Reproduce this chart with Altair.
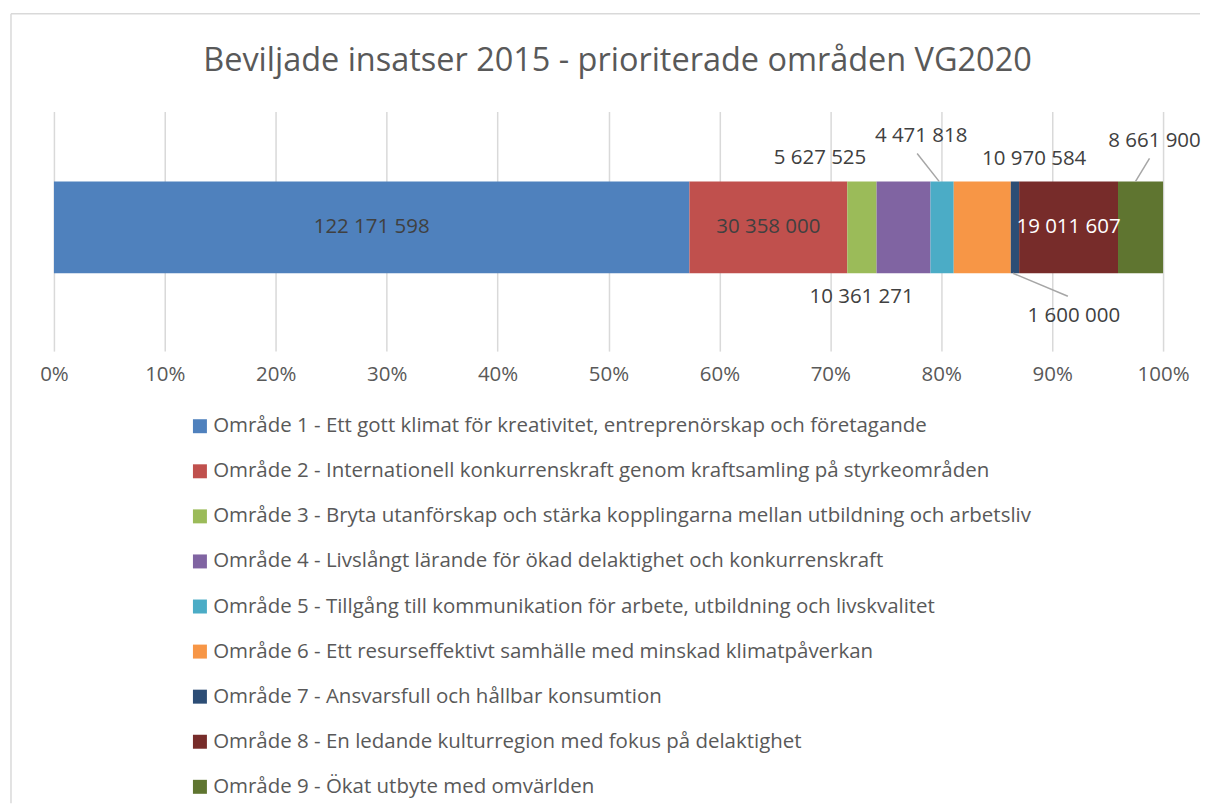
import altair as alt
import pandas as pd

areas = [
    "Område 1 - Ett gott klimat för kreativitet, entreprenörskap och företagande",
    "Område 2 - Internationell konkurrenskraft genom kraftsamling på styrkeområden",
    "Område 3 - Bryta utanförskap och stärka kopplingarna mellan utbildning och arbetsliv",
    "Område 4 - Livslångt lärande för ökad delaktighet och konkurrenskraft",
    "Område 5 - Tillgång till kommunikation för arbete, utbildning och livskvalitet",
    "Område 6 - Ett resurseffektivt samhälle med minskad klimatpåverkan",
    "Område 7 - Ansvarsfull och hållbar konsumtion",
    "Område 8 - En ledande kulturregion med fokus på delaktighet",
    "Område 9 - Ökat utbyte med omvärlden",
]
values = [122171598, 30358000, 5627525, 10361271, 4471818, 10970584, 1600000, 19011607, 8661900]
colors = ["#4F81BD", "#C0504D", "#9BBB59", "#8064A2", "#4BACC6", "#F79646", "#2C4D75", "#772C2A", "#5F7530"]
title_text = "Beviljade insatser 2015 - prioriterade områden VG2020"

total = sum(values)
starts, ends = [], []
acc = 0
for v in values:
    starts.append(acc / total)
    acc += v
    ends.append(acc / total)

df = pd.DataFrame({
    "area": areas,
    "value": values,
    "start": starts,
    "end": ends,
    "mid": [(s + e) / 2 for s, e in zip(starts, ends)],
    "label": [f"{v:,}".replace(",", " ") for v in values],
    "order": list(range(len(values))),
    "row": ["r"] * len(values),
})

FONT = "Open Sans"
FS = 20.5
W, H = 1111, 240

yscale = alt.Scale(paddingInner=0, paddingOuter=0.8043, align=0.473)
yenc = alt.Y("row:N", axis=None, scale=yscale)
color_enc = alt.Color("area:N", scale=alt.Scale(domain=areas, range=colors),
                      legend=alt.Legend(title=None, orient="none", legendX=136, legendY=305,
                                        direction="vertical", columns=1,
                                        symbolType="square", symbolSize=196,
                                        symbolStrokeWidth=0, symbolOpacity=1,
                                        labelFont=FONT, labelFontSize=FS, labelColor="#595959",
                                        labelLimit=0, labelOffset=3, rowPadding=24.15))

base = alt.Chart(df)

bars = base.mark_bar(stroke=None).encode(
    x=alt.X("start:Q", scale=alt.Scale(domain=[0, 1], nice=False),
            axis=alt.Axis(format=".0%", values=[i / 10 for i in range(11)], title=None,
                          grid=True, gridColor="#D9D9D9", gridWidth=1.5,
                          ticks=False, domain=False, labelPadding=13, labelFlush=False,
                          labelFont=FONT, labelFontSize=FS, labelColor="#595959")),
    x2="end:Q",
    y=yenc,
    color=color_enc,
    order="order:Q",
)

def text_layer(idx, dx=0, dy=0, color="#404040"):
    return base.transform_filter(alt.datum.order == idx).mark_text(
        font=FONT, fontSize=FS, color=color, dx=dx, dy=dy, baseline="middle", align="center"
    ).encode(x="mid:Q", y=yenc, text="label:N")

def leader(idx, x_off, x2_off, y_off, y2_off):
    return base.transform_filter(alt.datum.order == idx).mark_rule(
        color="#A6A6A6", strokeWidth=1.5,
        xOffset=x_off, x2Offset=x2_off, yOffset=y_off, y2Offset=y2_off
    ).encode(x="mid:Q", x2="mid:Q",
             y=alt.Y("row:N", axis=None, bandPosition=0.5, scale=yscale),
             y2="row:N")

labels = [
    text_layer(0),
    text_layer(1),
    text_layer(2, dx=-42, dy=-69),
    text_layer(3, dx=-42, dy=70),
    text_layer(4, dx=-21, dy=-91),
    text_layer(5, dx=52, dy=-68),
    text_layer(6, dx=59, dy=89),
    text_layer(7, color="white"),
    text_layer(8, dx=14, dy=-86),
]
leaders = [
    leader(4, -3, -25, -46, -74),
    leader(6, -2, 53, 46, 69),
    leader(8, -5, 9, -46, -69),
]

frame_df = pd.DataFrame({"b": [0]})
frame_top = alt.Chart(frame_df).mark_rule(color="#D9D9D9", strokeWidth=1.5).encode(
    x=alt.value(-43), x2=alt.value(1148), y=alt.value(-98))
frame_left = alt.Chart(frame_df).mark_rule(color="#D9D9D9", strokeWidth=1.5).encode(
    x=alt.value(-43), y=alt.value(-98), y2=alt.value(693))

chart = alt.layer(frame_top, frame_left, bars, *leaders, *labels).properties(
    width=W, height=H,
    title=alt.TitleParams(title_text, font=FONT, fontSize=32.5, fontWeight="normal",
                          color="#595959", anchor="middle", dx=9, offset=-64.5),
    padding={"left": 2, "top": 4, "right": 0, "bottom": 0},
).configure_view(stroke=None)

chart.save("out.html", embed_options={"renderer": "svg", "actions": False})
